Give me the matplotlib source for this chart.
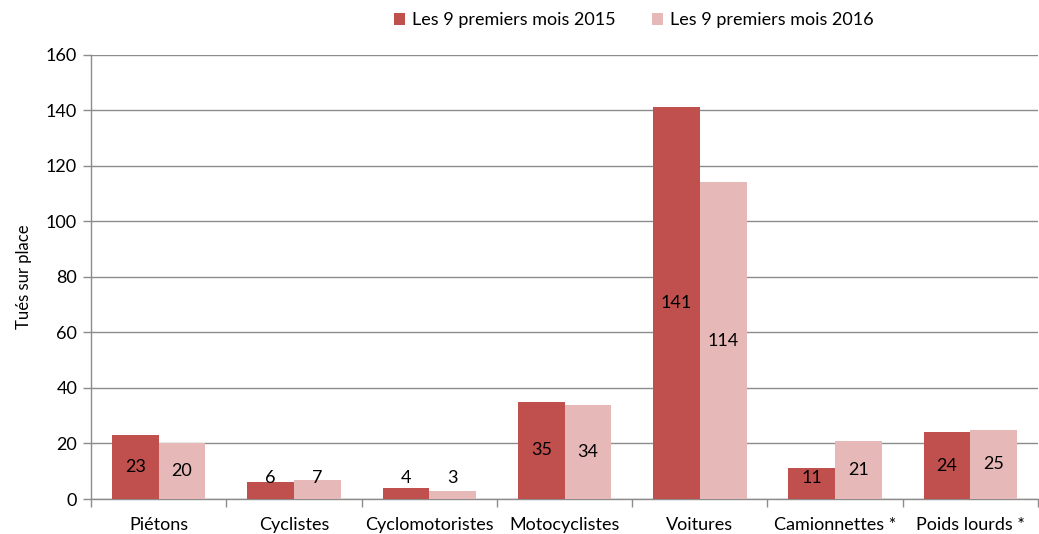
import numpy as np
import matplotlib.pyplot as plt
from matplotlib.ticker import FixedLocator

categories = ['Piétons', 'Cyclistes', 'Cyclomotoristes', 'Motocyclistes',
              'Voitures', 'Camionnettes *', 'Poids lourds *']
tues_2015 = [23, 6, 4, 35, 141, 11, 24]
tues_2016 = [20, 7, 3, 34, 114, 21, 25]
series_names = ['Les 9 premiers mois 2015', 'Les 9 premiers mois 2016']

plt.rcParams['font.family'] = ['Lato', 'DejaVu Sans']

grid_col = '#8c8c8c'
c2015 = '#c0504d'
c2016 = '#e6b9b8'
fs = 13

fig = plt.figure(figsize=(10.39, 5.34), dpi=100)
ax = fig.add_axes([0.0876, 0.0655, 0.9115, 0.832])

x = np.arange(len(categories))
w = 0.345
b1 = ax.bar(x - w / 2, tues_2015, w, color=c2015, label=series_names[0], zorder=3)
b2 = ax.bar(x + w / 2, tues_2016, w, color=c2016, label=series_names[1], zorder=3)

# value labels centred in the bar, kept above a minimum height for short bars
for bars, vals in [(b1, tues_2015), (b2, tues_2016)]:
    for rect, v in zip(bars, vals):
        ax.text(rect.get_x() + rect.get_width() / 2, max(v / 2, 7.4), str(v),
                ha='center', va='center', fontsize=fs, color='black', zorder=4)

ax.set_xlim(-0.5, len(categories) - 0.5)
ax.set_ylim(0, 160)
ax.set_yticks(range(0, 161, 20))
ax.yaxis.grid(True, color=grid_col, linewidth=1.0, zorder=0)

ax.set_xticks(x)
ax.set_xticklabels(categories, fontsize=fs)
ax.xaxis.set_minor_locator(FixedLocator(np.arange(-0.5, len(categories), 1.0)))
ax.tick_params(axis='x', which='major', length=0, pad=13)
ax.tick_params(axis='x', which='minor', length=6, color=grid_col, width=1)
ax.tick_params(axis='y', length=6, color=grid_col, width=1, labelsize=fs, pad=4)

for side in ['top', 'right']:
    ax.spines[side].set_visible(False)
for side in ['left', 'bottom']:
    ax.spines[side].set_color(grid_col)
    ax.spines[side].set_linewidth(1.0)

ax.set_ylabel('Tués sur place', fontsize=12, labelpad=10)

fig.legend(handles=[b1, b2], loc='center', bbox_to_anchor=(0.61, 0.962),
           ncol=2, frameon=False, fontsize=fs, handlelength=0.6,
           handleheight=0.6, handletextpad=0.4, columnspacing=2.0)

plt.savefig('out.png', dpi=100)
